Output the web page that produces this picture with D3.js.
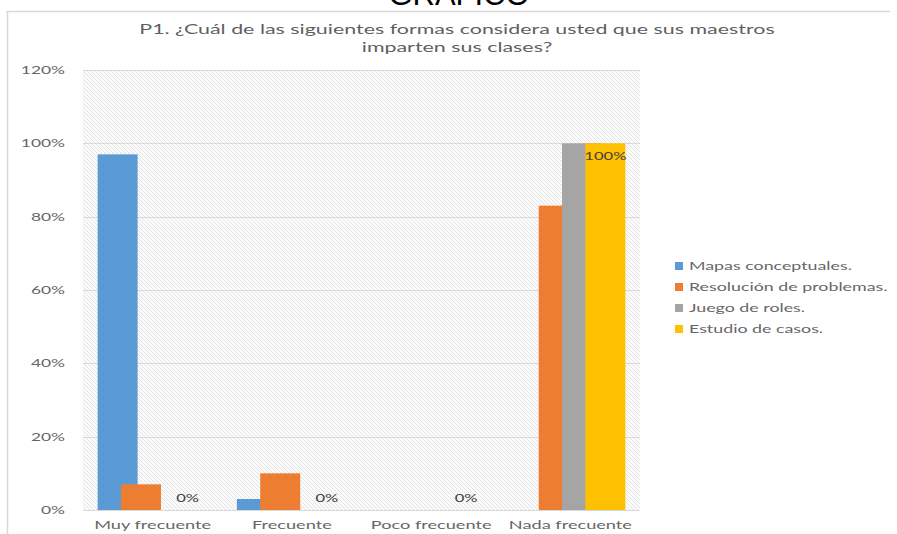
<!DOCTYPE html>
<html><head><meta charset="utf-8">
<script src="https://cdn.jsdelivr.net/npm/d3@7"></script>
<style>body{margin:0;background:#fff}svg{display:block}</style>
</head><body>
<svg id="c" width="897" height="534"></svg>
<script>
const categories = ["Muy frecuente", "Frecuente", "Poco frecuente", "Nada frecuente"];
const seriesNames = ["Mapas conceptuales.", "Resolución de problemas.", "Juego de roles.", "Estudio de casos."];
const mapas = [0.97, 0.03, 0, 0];
const resolucion = [0.07, 0.10, 0, 0.83];
const juego = [0, 0, 0, 1.00];
const estudio = [0, 0, 0, 1.00];
const yTicks = [0, 0.2, 0.4, 0.6, 0.8, 1.0, 1.2];
const colors = ["#5b9bd5", "#ed7d31", "#a5a5a5", "#ffc000"];
const titleLines = ["P1. ¿Cuál de las siguientes formas considera usted que sus maestros", "imparten sus clases?"];
const values = [mapas, resolucion, juego, estudio];

const svg = d3.select("#c");
function stext(g, x, y, str, opts) {
  const t = g.append("text")
    .attr("transform", `translate(${x},${y}) scale(${opts.sx || 1.58},1)`)
    .attr("text-anchor", opts.anchor || "start")
    .attr("font-family", opts.font || "Lato, 'Open Sans', sans-serif")
    .attr("font-size", opts.size || 12)
    .attr("fill", opts.fill || "#666666")
    .text(str);
  return t;
}

// header text (cut off)
svg.append("text").attr("x", 459).attr("y", 5).attr("text-anchor", "middle")
  .attr("font-family", "'Liberation Sans', Arial, sans-serif").attr("font-size", 31)
  .attr("fill", "#000").text("GRÁFICO");

// frame
svg.append("line").attr("x1", 6).attr("x2", 890).attr("y1", 11.5).attr("y2", 11.5).attr("stroke", "#d9d9d9").attr("stroke-width", 1.5);
svg.append("line").attr("x1", 7.5).attr("x2", 7.5).attr("y1", 11).attr("y2", 534).attr("stroke", "#d9d9d9").attr("stroke-width", 1.5);

// title
titleLines.forEach((l, i) => stext(svg, 457, 34 + i * 18, l, {anchor: "middle", size: 14, sx: 1.53, fill: "#5f5f5f"}));

const pLeft = 83, pRight = 640, pTop = 70, pBottom = 510;
const y = d3.scaleLinear().domain([0, 1.2]).range([pBottom, pTop]);
const x0 = d3.scaleBand().domain(categories).range([pLeft, pRight]).padding(0);
const bw = x0.bandwidth();
const barW = bw * 0.287;
const step = bw * 0.1675;
const groupW = step * 3 + barW;
const xs = d3.scaleBand().domain(seriesNames).range([(bw - groupW) / 2, (bw - groupW) / 2 + step * 4]).padding(0);

// hatch pattern
const defs = svg.append("defs");
const pat = defs.append("pattern").attr("id", "hatch").attr("patternUnits", "userSpaceOnUse")
  .attr("width", 4).attr("height", 4);
pat.append("rect").attr("width", 4).attr("height", 4).attr("fill", "#fbfbfb");
pat.append("path").attr("d", "M-1,-1 L5,5 M-1,3 L1,5 M3,-1 L5,1").attr("stroke", "#e3e3e3").attr("stroke-width", 1);
svg.append("rect").attr("x", pLeft).attr("y", pTop).attr("width", pRight - pLeft).attr("height", pBottom - pTop).attr("fill", "url(#hatch)");

// gridlines
svg.append("g").selectAll("line").data(yTicks).join("line")
  .attr("x1", pLeft).attr("x2", pRight)
  .attr("y1", d => Math.round(y(d)) + 0.5).attr("y2", d => Math.round(y(d)) + 0.5)
  .attr("stroke", "#d9d9d9").attr("stroke-width", 1);

// y axis labels
const fmt = d3.format(".0%");
const yl = svg.append("g");
yTicks.forEach(t => stext(yl, 65, y(t) + 4, fmt(t), {anchor: "end", size: 11}));

// x labels
const xl = svg.append("g");
categories.forEach(c => stext(xl, x0(c) + bw / 2, 529, c, {anchor: "middle", size: 11.5}));

// bars
values.forEach((vals, si) => {
  svg.append("g").selectAll("rect").data(categories.map((c, ci) => ({c, v: vals[ci]}))).join("rect")
    .attr("x", d => x0(d.c) + xs(seriesNames[si]))
    .attr("width", barW)
    .attr("y", d => y(d.v))
    .attr("height", d => y(0) - y(d.v))
    .attr("fill", colors[si]);
});

// data labels for last series
const dl = svg.append("g");
categories.forEach((c, ci) => {
  const v = estudio[ci];
  const cx = x0(c) + xs(seriesNames[3]) + barW / 2;
  const yy = v > 0.5 ? y(v) + 17 : y(v) - 8;
  stext(dl, cx, yy, fmt(v), {anchor: "middle", size: 10.5, fill: "#404040"});
});

// legend
const lg = svg.append("g");
seriesNames.forEach((s, i) => {
  const ly = 266 + i * 21;
  lg.append("rect").attr("x", 675).attr("y", ly - 4).attr("width", 8).attr("height", 8).attr("fill", colors[i]);
  stext(lg, 689, ly + 4, s, {size: 11, sx: 1.62});
});
</script>
</body></html>
